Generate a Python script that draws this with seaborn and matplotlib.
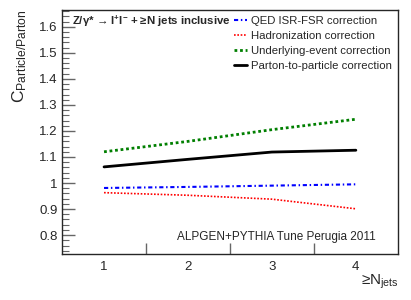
import matplotlib
matplotlib.use("Agg")
import matplotlib.pyplot as plt
from matplotlib.ticker import MultipleLocator, FixedLocator, NullFormatter
import pandas as pd
import seaborn as sns

# data
n_jets = [1, 2, 3, 4]
qed = [0.981, 0.985, 0.990, 0.995]
hadron = [0.963, 0.953, 0.938, 0.901]
ue = [1.120, 1.160, 1.205, 1.245]
p2p = [1.062, 1.091, 1.119, 1.126]

series_names = ["QED ISR-FSR correction", "Hadronization correction",
                "Underlying-event correction", "Parton-to-particle correction"]
series_vals = [qed, hadron, ue, p2p]

sns.set_style("ticks")
plt.rcParams['font.family'] = ['Liberation Sans', 'DejaVu Sans']
plt.rcParams['mathtext.default'] = 'regular'

df = pd.concat([pd.DataFrame({"n": n_jets, "c": v, "corr": name})
                for name, v in zip(series_names, series_vals)])

fig = plt.figure(figsize=(4.11, 3.0), dpi=100)
ax = fig.add_axes([0.151, 0.153, 0.817, 0.814])

palette = {series_names[0]: "#0000ff", series_names[1]: "#ff0000",
           series_names[2]: "#007f00", series_names[3]: "#000000"}
sns.lineplot(data=df, x="n", y="c", hue="corr", palette=palette, ax=ax,
             legend=False)
styles = [((0, (2, 1.3, 0.7, 1.3)), 1.5), ((0, (1, 1)), 1.2),
          ((0, (1, 1)), 2.0), ("-", 2.0)]
for line, (ls, lw) in zip(ax.lines, styles):
    line.set_linestyle(ls)
    line.set_linewidth(lw)

ax.set_xlim(0.5, 4.5)
ax.set_ylim(0.727, 1.665)
ax.yaxis.set_major_locator(MultipleLocator(0.1))
ax.yaxis.set_minor_locator(MultipleLocator(0.02))
ax.yaxis.set_major_formatter(plt.FuncFormatter(lambda v, p: f"{v:g}"))
ax.tick_params(axis='y', which='major', direction='in', length=9, width=1,
               color='#666666', labelsize=9.5, pad=3)
ax.tick_params(axis='y', which='minor', direction='in', length=5, width=0.8,
               color='#666666')
ax.set_xticks(n_jets)
ax.set_xticklabels([str(n) for n in n_jets])
ax.tick_params(axis='x', which='major', length=0, labelsize=9.5, pad=5)
ax.xaxis.set_minor_locator(FixedLocator([1.5, 2.5, 3.5]))
ax.xaxis.set_minor_formatter(NullFormatter())
ax.tick_params(axis='x', which='minor', direction='in', length=8, width=1,
               color='#666666')
for s in ax.spines.values():
    s.set_linewidth(1.0)

ax.set_xlabel("")
ax.set_ylabel("")
fig.text(0.97, 0.03, r"≥N$_{jets}$", fontsize=11, ha='right', va='bottom')
fig.text(0.025, 0.97, r"C$_{Particle/Parton}$", fontsize=12.5, rotation=90,
         ha='left', va='top')

ax.text(0.03, 0.955, r"Z/γ* → l$^{+}$l$^{-}$ + ≥N jets inclusive",
        transform=ax.transAxes, fontsize=8.2, fontweight='bold', va='center')
ax.text(0.935, 0.07, "ALPGEN+PYTHIA Tune Perugia 2011", transform=ax.transAxes,
        fontsize=8.5, ha='right', va='center')

handles = [plt.Line2D([], [], color=palette[n], linestyle=ls, linewidth=lw)
           for n, (ls, lw) in zip(series_names, styles)]
ax.legend(handles, series_names, loc='upper right', bbox_to_anchor=(1.0, 1.0),
          frameon=False, fontsize=8.2, handlelength=1.1, handletextpad=0.4,
          labelspacing=0.45, borderaxespad=0.1, borderpad=0.4)

fig.savefig("out.png", dpi=100)
